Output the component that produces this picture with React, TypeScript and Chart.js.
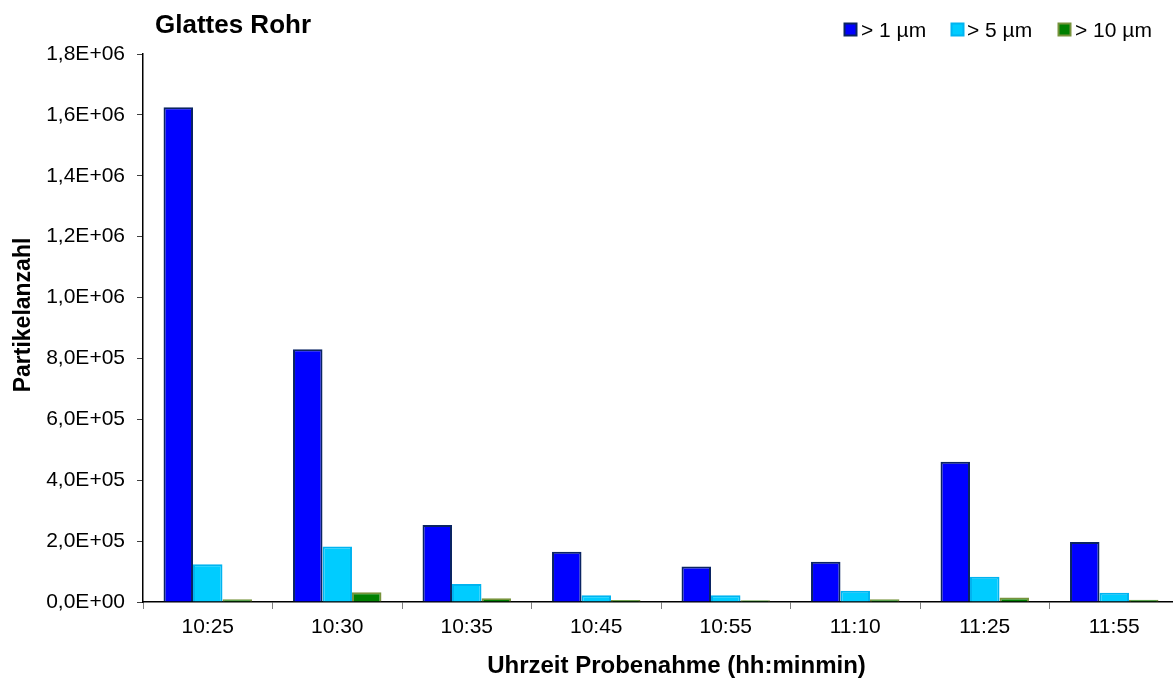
import React, { useEffect, useRef } from "react";
import { Chart, registerables } from "chart.js";

Chart.register(...registerables);

const categories = ["10:25", "10:30", "10:35", "10:45", "10:55", "11:10", "11:25", "11:55"];
const over1um = [1625000, 830000, 253000, 165000, 117000, 132000, 461000, 197000];
const over5um = [124000, 182000, 59000, 22000, 22000, 37000, 83000, 30000];
const over10um = [9000, 32000, 12000, 6500, 6000, 9000, 15000, 7500];
const seriesLabels = ["> 1 µm", "> 5 µm", "> 10 µm"];
const yMax = 1800000;
const yStep = 200000;

const chartTitle = "Glattes Rohr";
const xTitle = "Uhrzeit Probenahme (hh:minmin)";
const yTitle = "Partikelanzahl";

const FONT = "'Liberation Sans', Arial, sans-serif";
const fills = ["#0000FF", "#00CCFF", "#008000"];
const borders = ["#0A2463", "#00B4F0", "#77933C"];

function fmtSci(v: number): string {
  const [m, e] = v.toExponential(1).split("e");
  const n = parseInt(e, 10);
  return m.replace(".", ",") + "E" + (n < 0 ? "-" : "+") + String(Math.abs(n)).padStart(2, "0");
}

const overlayPlugin = {
  id: "overlay",
  afterDraw(chart: any) {
    const ctx = chart.ctx as CanvasRenderingContext2D;
    ctx.save();
    ctx.fillStyle = "#000";
    ctx.textBaseline = "alphabetic";
    // title
    ctx.font = `bold 26px ${FONT}`;
    ctx.textAlign = "left";
    ctx.fillText(chartTitle, 155, 33);
    // legend
    const boxX = [844.5, 951.5, 1058.5];
    const textX = [861, 967, 1075];
    ctx.font = `21px ${FONT}`;
    for (let i = 0; i < 3; i++) {
      ctx.fillStyle = fills[i];
      ctx.fillRect(boxX[i], 23.5, 12, 12);
      ctx.strokeStyle = borders[i];
      ctx.lineWidth = 2;
      ctx.strokeRect(boxX[i], 23.5, 12, 12);
      ctx.fillStyle = "#000";
      ctx.fillText(seriesLabels[i], textX[i], 37);
    }
    // x title
    ctx.font = `bold 24px ${FONT}`;
    ctx.textAlign = "center";
    ctx.fillText(xTitle, 676.5, 673);
    // y title
    ctx.translate(30, 315);
    ctx.rotate(-Math.PI / 2);
    ctx.font = `bold 23px ${FONT}`;
    ctx.textAlign = "center";
    ctx.fillText(yTitle, 0, 0);
    ctx.restore();
  },
};

export default function App() {
  const ref = useRef<HTMLCanvasElement | null>(null);
  useEffect(() => {
    if (!ref.current) return;
    const ds = [over1um, over5um, over10um].map((d, i) => ({
      label: seriesLabels[i],
      data: d,
      backgroundColor: fills[i],
      borderColor: borders[i],
      borderWidth: 2,
      barPercentage: 1,
      categoryPercentage: 0.683,
    }));
    const chart = new Chart(ref.current, {
      type: "bar",
      data: { labels: categories, datasets: ds },
      plugins: [overlayPlugin],
      options: {
        animation: false,
        responsive: false,
        devicePixelRatio: 1,
        layout: { padding: { top: 54, right: 1, bottom: 0, left: 0 } },
        plugins: { legend: { display: false }, title: { display: false }, tooltip: { enabled: false } },
        scales: {
          x: {
            afterFit: (s: any) => {
              s.height = 76;
            },
            grid: {
              display: true,
              drawOnChartArea: false,
              drawTicks: true,
              tickLength: 7,
              color: "#808080",
              offset: true,
            },
            border: { display: true, color: "#000", width: 1.5 },
            ticks: { color: "#000", font: { family: FONT, size: 21 }, padding: 6, maxRotation: 0 },
          },
          y: {
            min: 0,
            max: yMax,
            afterFit: (s: any) => {
              s.width = 143;
            },
            grid: {
              display: true,
              drawOnChartArea: false,
              drawTicks: true,
              tickLength: 6,
              color: "#404040",
            },
            border: { display: true, color: "#000", width: 1.5 },
            ticks: {
              stepSize: yStep,
              color: "#000",
              font: { family: FONT, size: 21 },
              padding: 12,
              callback: (v: any) => fmtSci(Number(v)),
            },
          },
        },
      },
    });
    return () => chart.destroy();
  }, []);
  return (
    <div style={{ position: "absolute", left: 0, top: 0, width: 1173, height: 678, overflow: "hidden", background: "#fff" }}>
      <canvas ref={ref} width={1180} height={678} style={{ width: 1180, height: 678, display: "block" }} />
    </div>
  );
}
